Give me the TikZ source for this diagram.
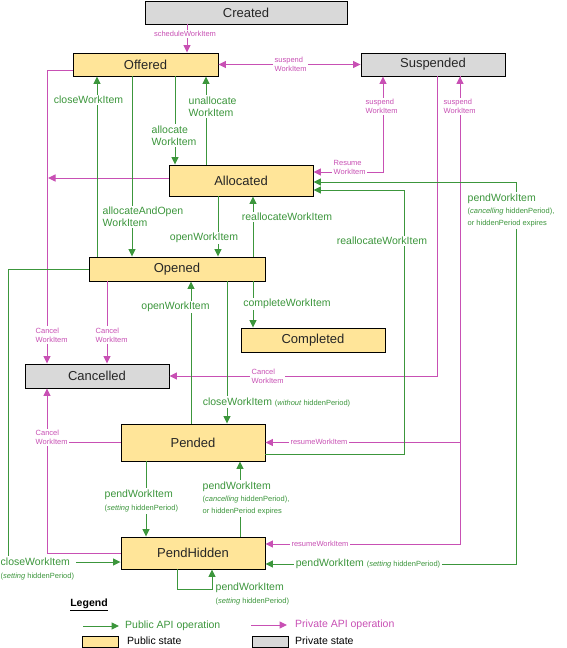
\documentclass[tikz,border=0pt]{standalone}
\usepackage{fontspec}
\setmainfont{Liberation Sans}
\usetikzlibrary{arrows.meta}
\definecolor{pubgreen}{RGB}{60,150,60}
\definecolor{privpink}{RGB}{200,80,180}
\definecolor{pubfill}{RGB}{255,229,153}
\definecolor{privfill}{RGB}{217,217,217}
\newcommand{\fsm}{\fontsize{7.5}{9}\selectfont}

\begin{document}
\begin{tikzpicture}[x=1pt, y=-1pt, >={Triangle[length=7.5pt,width=7pt]},
  wstate/.style={draw=black, line width=0.9pt, inner sep=0pt, text=black!85, font=\fontsize{13}{15}\selectfont},
  pubstate/.style={wstate, fill=pubfill},
  privstate/.style={wstate, fill=privfill},
  pub/.style={->, draw=pubgreen, line width=1pt},
  priv/.style={->, draw=privpink, line width=1pt},
  publbl/.style={fill=white, inner sep=1.5pt, text=pubgreen, font=\fontsize{10.5}{12}\selectfont, align=left},
  privlbl/.style={fill=white, inner sep=1.5pt, text=privpink, font=\fsm, align=left}]
\useasboundingbox (0,0) rectangle (566,648);

% 1. states
\node[privstate, minimum width=202pt, minimum height=23pt] (created) at (246,12.5) {Created};
\node[pubstate, minimum width=145pt, minimum height=23pt] (offered) at (145.5,64.5) {Offered};
\node[privstate, minimum width=144pt, minimum height=23pt] (suspended) at (433,64.5) {Suspended};
\node[pubstate, minimum width=144pt, minimum height=31pt] (allocated) at (241,180.5) {Allocated};
\node[pubstate, minimum width=176pt, minimum height=24pt] (opened) at (177,269) {Opened};
\node[pubstate, minimum width=144pt, minimum height=24pt] (completed) at (313,340) {Completed};
\node[privstate, minimum width=144pt, minimum height=24pt] (cancelled) at (97,376) {Cancelled};
\node[pubstate, minimum width=144pt, minimum height=37pt] (pended) at (193,442.5) {Pended};
\node[pubstate, minimum width=144pt, minimum height=32pt] (pendhidden) at (193,553) {PendHidden};

% 2. private operations
\draw[priv] (created.south -| 187,0) -- (offered.north -| 187,0);
\draw[priv, <->] (offered.east) -- (suspended.west);
\draw[priv, <->] (allocated.east |- 0,172) -| (suspended.south -| 383,0);
\draw[priv] (suspended.south -| 437,0) |- (cancelled.east);
\draw[priv, <->] (pended.east) -| (suspended.south -| 460,0);
\draw[priv, <-] (pendhidden.east |- 0,544) -| (suspended.south -| 460,0);
\draw[priv] (offered.west |- 0,70) -| (cancelled.north -| 47,0);
\coordinate (joinA) at (48,178);
\draw[priv] (allocated.west |- 0,178) -- (joinA);
\draw[priv] (opened.south -| 107,0) -- (cancelled.north -| 107,0);
\draw[priv] (pendhidden.west) -| (cancelled.south -| 47,0);
\coordinate (joinB) at (47,442.5);
\draw[priv, -] (pended.west) -- (joinB);

% 3. public operations
\draw[pub] (opened.north -| 97,0) -- (offered.south -| 97,0);
\draw[pub] (offered.south -| 132,0) -- (opened.north -| 132,0);
\draw[pub] (offered.south -| 175,0) -- (allocated.north -| 175,0);
\draw[pub] (allocated.north -| 206,0) -- (offered.south -| 206,0);
\draw[pub] (allocated.south -| 218,0) -- (opened.north -| 218,0);
\draw[pub] (opened.north -| 253,0) -- (allocated.south -| 253,0);
\draw[pub] (pended.east |- 0,454) -- (404,454) |- (allocated.east |- 0,190);
\draw[pub, <->] (allocated.east |- 0,182) -- (516,182) |- (pendhidden.east |- 0,564);
\draw[pub] (opened.south -| 253,0) -- (completed.north -| 253,0);
\draw[pub] (pended.north -| 191,0) -- (opened.south -| 191,0);
\draw[pub] (opened.south -| 227,0) -- (pended.north -| 227,0);
\draw[pub] (opened.west) -- (8,269) |- (pendhidden.west |- 0,562);
\draw[pub] (pended.south -| 146,0) -- (pendhidden.north -| 146,0);
\draw[pub] (pendhidden.north -| 240,0) -- (pended.south -| 240,0);
\draw[pub] (pendhidden.south -| 177,0) -- (177,589) -| (pendhidden.south -| 212,0);

% 4. labels
\node[privlbl] (lSchedule) at (185,34) {scheduleWorkItem};
\node[privlbl, anchor=west] (lSuspOff) at (273,64.5) {suspend\\WorkItem};
\node[privlbl, anchor=west] (lSuspAlloc) at (364,106.5) {suspend\\WorkItem};
\node[privlbl, anchor=west] (lSuspPend) at (442,106.5) {suspend\\WorkItem};
\node[privlbl, anchor=west] (lResume) at (332,167) {Resume\\WorkItem};
\node[privlbl, anchor=west] (lCancelOff) at (34,335) {Cancel\\WorkItem};
\node[privlbl, anchor=west] (lCancelOpen) at (94,335) {Cancel\\WorkItem};
\node[privlbl, anchor=west] (lCancelSusp) at (250,376.5) {Cancel\\WorkItem};
\node[privlbl, anchor=west] (lCancelPend) at (34,437.5) {Cancel\\WorkItem};
\node[privlbl] (lResumePend) at (319,442) {resumeWorkItem};
\node[privlbl] (lResumeHid) at (320,544) {resumeWorkItem};

\node[publbl] (lClose) at (88.5,100) {closeWorkItem};
\node[publbl, anchor=west] (lAllocOpen) at (101,217) {allocateAndOpen\\WorkItem};
\node[publbl, anchor=west] (lAlloc) at (150,135.5) {allocate\\WorkItem};
\node[publbl, anchor=west] (lUnalloc) at (187,106.5) {unallocate\\WorkItem};
\node[publbl] (lOpenA) at (204,238) {openWorkItem};
\node[publbl] (lRealloc) at (287,217) {reallocateWorkItem};
\node[publbl] (lReallocP) at (382,241) {reallocateWorkItem};
\node[publbl, anchor=west] (lPendCancel) at (466,210.5) {pendWorkItem\\{\fsm(\textit{cancelling} hiddenPeriod),}\\{\fsm or hiddenPeriod expires}};
\node[publbl] (lCompl) at (287,304) {completeWorkItem};
\node[publbl] (lOpenP) at (175.5,307) {openWorkItem};
\node[publbl] (lClosePend) at (276.5,402) {closeWorkItem {\fsm(\textit{without} hiddenPeriod)}};
\node[publbl, anchor=west] (lPendHid) at (103,501) {pendWorkItem\\[1.5pt]{\fsm(\textit{setting} hiddenPeriod)}};
\node[publbl, anchor=west] (lPendBack) at (201,498.5) {pendWorkItem\\{\fsm(\textit{cancelling} hiddenPeriod),}\\{\fsm or hiddenPeriod expires}};
\node[publbl, anchor=west] (lPendSelf) at (214,593.5) {pendWorkItem\\[1pt]{\fsm(\textit{setting} hiddenPeriod)}};
\node[publbl] (lPendAlloc) at (368,564) {pendWorkItem {\fsm(\textit{setting} hiddenPeriod)}};
\node[publbl, anchor=west] (lCloseHid) at (-1,569) {closeWorkItem\\[1.5pt]{\fsm(\textit{setting} hiddenPeriod)}};

% 5. legend
\node[font=\fontsize{10.5}{12}\selectfont\bfseries] (legend) at (89,605) {\underline{Legend}};
\coordinate (pubA) at (83,626); \coordinate (pubB) at (119,626);
\draw[pub] (pubA) -- (pubB);
\node[anchor=west, text=pubgreen, font=\fontsize{10.5}{12}\selectfont, inner sep=1pt] (lPubOp) at (124,626) {Public API operation};
\coordinate (privA) at (251,625); \coordinate (privB) at (287,625);
\draw[priv] (privA) -- (privB);
\node[anchor=west, text=privpink, font=\fontsize{10.5}{12}\selectfont, inner sep=1pt] (lPrivOp) at (294,625) {Private API operation};
\node[pubstate, minimum width=36pt, minimum height=11pt] (pubkey) at (100,641.5) {};
\node[anchor=west, font=\fontsize{10.5}{12}\selectfont, inner sep=1pt] (lPubState) at (126,641) {Public state};
\node[privstate, minimum width=36pt, minimum height=11pt] (privkey) at (270,641.5) {};
\node[anchor=west, font=\fontsize{10.5}{12}\selectfont, inner sep=1pt] (lPrivState) at (294,641) {Private state};
\end{tikzpicture}
\end{document}
